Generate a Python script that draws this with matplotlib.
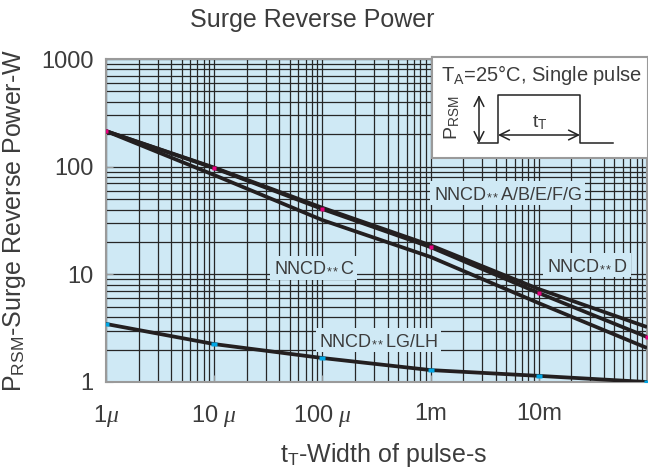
import matplotlib
matplotlib.use("Agg")
import matplotlib.pyplot as plt
from matplotlib.ticker import NullFormatter

plt.rcParams['font.family'] = ['Liberation Sans', 'DejaVu Sans']
plt.rcParams['mathtext.fontset'] = 'custom'
plt.rcParams['mathtext.rm'] = 'Liberation Sans'
plt.rcParams['mathtext.it'] = 'Liberation Serif:italic'

# pulse width (s)
pulse_width = [1e-6, 1e-5, 1e-4, 1e-3, 1e-2, 1e-1]
# surge reverse power (W)
p_abefg = [214, 97, 40.4, 17.9, 6.7, 2.62]
p_d = [214, 98, 41.5, 18.6, 7.3, 3.24]
p_c = [214, 83.6, 31.9, 14.5, 5.4, 2.07]
p_lglh = [3.46, 2.25, 1.67, 1.29, 1.14, 1.0]

xticks = [1e-6, 1e-5, 1e-4, 1e-3, 1e-2]
xtick_labels = [r'1$\mu$', r'10 $\mu$', r'100 $\mu$', '1m', '10m']
yticks = [1, 10, 100, 1000]
ytick_labels = ['1', '10', '100', '1000']

W, H = 648, 472
bg = '#cfe9f5'
line_c = '#231f20'
grey = '#9a9a9a'
txt_c = '#3c3c3c'

fig = plt.figure(figsize=(W / 100, H / 100), dpi=100)
ax = fig.add_axes([106 / W, 1 - 382 / H, 541 / W, 323 / H])
ax.set_facecolor(bg)
ax.set_xscale('log')
ax.set_yscale('log')
ax.set_xlim(1e-6, 1e-1)
ax.set_ylim(1, 1000)

ax.grid(which='both', color='#262626', lw=0.9)
ax.set_axisbelow(True)

for ys in (p_c, p_abefg, p_d):
    ax.plot(pulse_width, ys, color=line_c, lw=2.7, solid_capstyle='butt', zorder=3)
ax.plot(pulse_width, p_lglh, color=line_c, lw=2.7, zorder=3)
ax.plot(pulse_width, p_abefg, ls='none', marker='s', ms=3, color='#e6007e',
        mec='none', zorder=4)
rect = [(-1.7, -1), (1.7, -1), (1.7, 1), (-1.7, 1)]
ax.plot(pulse_width, p_lglh, ls='none', marker=rect, ms=5, color='#00a6e4',
        mec='none', zorder=4)

ax.set_xticks(xticks)
ax.set_xticklabels(xtick_labels)
ax.set_yticks(yticks)
ax.set_yticklabels(ytick_labels)
ax.xaxis.set_minor_formatter(NullFormatter())
ax.yaxis.set_minor_formatter(NullFormatter())
ax.tick_params(which='major', direction='in', length=5, color=grey,
               labelsize=17, labelcolor=txt_c)
ax.tick_params(axis='x', pad=15)
ax.tick_params(axis='y', pad=9)
ax.tick_params(which='minor', length=0)
for s in ax.spines.values():
    s.set_color(grey)
    s.set_linewidth(1.5)

lab = dict(fontsize=13, color=txt_c, va='center', ha='left', transform=ax.transAxes,
           zorder=5, bbox=dict(facecolor=bg, edgecolor='none', pad=2.5))
ax.text(0.606, 0.585, r'NNCD$_{**}$A/B/E/F/G', **lab)
ax.text(0.815, 0.362, r'NNCD$_{**}$D', **lab)
ax.text(0.310, 0.353, r'NNCD$_{**}$C', **lab)
ax.text(0.394, 0.130, r'NNCD$_{**}$LG/LH', **lab)

fig.text(312 / W, 1 - 20 / H, 'Surge Reverse Power', fontsize=18, color=txt_c,
         ha='center', va='center')
fig.text(15 / W, 1 - 220 / H, r'P$_\mathregular{RSM}$-Surge Reverse Power-W',
         fontsize=18, color=txt_c, rotation=90, ha='center', va='center')
fig.text(384 / W, 1 - 455 / H, r't$_\mathregular{T}$-Width of pulse-s',
         fontsize=18, color=txt_c, ha='center', va='center')

# inset with test conditions
ins = fig.add_axes([432 / W, 1 - 158 / H, 216 / W, 101 / H])
ins.set_xlim(0, 216)
ins.set_ylim(101, 0)
ins.set_facecolor('white')
ins.set_xticks([])
ins.set_yticks([])
for s in ins.spines.values():
    s.set_color(grey)
    s.set_linewidth(1.5)
ins.text(9, 18, r'T$_\mathregular{A}$=25°C, Single pulse', fontsize=14.5,
         color=txt_c, va='center', ha='left')
ins.plot([46, 66, 66, 148, 148, 181], [86, 86, 38, 38, 86, 86], color='#222222', lw=1.1)
arr = dict(arrowstyle='<->,head_length=0.7,head_width=0.35', color='#222222', lw=1.1,
           shrinkA=0, shrinkB=0)
ins.annotate('', xy=(47, 38), xytext=(47, 86), arrowprops=arr)
ins.annotate('', xy=(66, 78), xytext=(148, 78), arrowprops=arr)
ins.text(108, 66, r't$_\mathregular{T}$', fontsize=14, color=txt_c, ha='center', va='center')
ins.text(20, 61, r'P$_\mathregular{RSM}$', fontsize=14, color=txt_c, rotation=90,
         ha='center', va='center')

fig.savefig('out.png', dpi=100)
